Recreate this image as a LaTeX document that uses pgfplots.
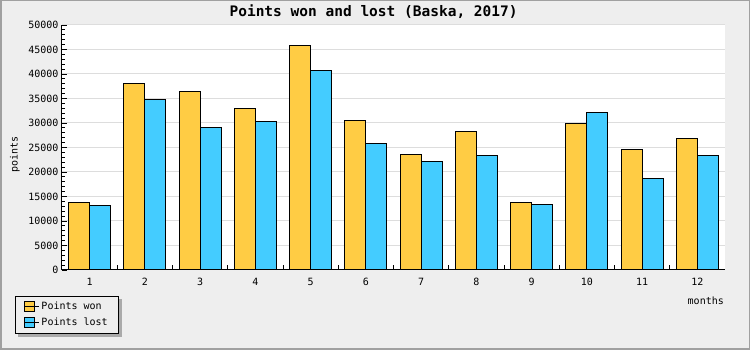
\documentclass[border=0pt]{standalone}
\usepackage{fontspec}
\setmainfont{DejaVu Sans Mono}
\usepackage{pgfplots}
\pgfplotsset{compat=1.18}
\definecolor{bg}{HTML}{EEEEEE}
\definecolor{won}{HTML}{FFCC44}
\definecolor{lost}{HTML}{44CCFF}
\definecolor{gridc}{HTML}{DDDDDD}
\definecolor{framec}{HTML}{A0A0A0}
\definecolor{shadowc}{HTML}{AAAAAA}
\pgfdeclarelayer{bgl}
\pgfdeclarelayer{shl}
\pgfsetlayers{bgl,shl,main}
\begin{document}
\begin{tikzpicture}[x=1pt,y=1pt]
\useasboundingbox (0,0) rectangle (750,350);
\begin{pgfonlayer}{bgl}
\fill[bg] (0,0) rectangle (750,350);
\end{pgfonlayer}
\begin{axis}[
  at={(62pt,80pt)}, anchor=south west,
  scale only axis, width=663pt, height=245pt,
  axis background/.style={fill=white},
  xmin=0.5, xmax=12.5, ymin=0, ymax=50000,
  ybar=0pt, bar width=21pt,
  axis x line*=bottom, axis y line*=left,
  axis line style={line width=1pt, -},
  tick align=inside,
  major tick length=5pt, minor tick length=3pt,
  tick style={black, line width=0.8pt},
  ytick distance=5000, minor y tick num=4,
  scaled y ticks=false,
  /pgf/number format/.cd, 1000 sep={}, assume math mode=true, /pgfplots/.cd,
  xtick={1.5,2.5,...,11.5}, xticklabels={},
  extra x ticks={1,2,...,12},
  extra x tick style={major tick length=0pt, tick style={draw=none}},
  ymajorgrids, major grid style={gridc, line width=1pt},
  ticklabel style={font=\fontsize{10}{12}\selectfont},
  xticklabel style={yshift=-4.5pt},
  title={Points won and lost (Baska, 2017)},
  title style={font=\bfseries\fontsize{14.5}{16}\selectfont, at={(axis description cs:0.470,1)}, anchor=base, yshift=2.2pt, inner sep=0pt},
  ylabel={points},
  ylabel style={font=\fontsize{10}{12}\selectfont, at={(axis description cs:-0.0709,0.473)}, anchor=center},
  xlabel={months},
  xlabel style={font=\fontsize{10}{12}\selectfont, at={(axis description cs:0.971,-0.1265)}, anchor=center},
  legend style={name=leg, at={(axis description cs:-0.0709,-0.105)}, anchor=north west,
    draw=black, line width=1pt, fill=bg,
    font=\fontsize{10}{12}\selectfont,
    inner xsep=8.5pt, inner ysep=4pt, row sep=3pt},
  legend cell align=left,
]
\addplot[fill=won, draw=black, line width=1pt,
  legend image code/.code={\draw[fill=won, draw=black, line width=0.8pt] (0pt,-5pt) rectangle (10pt,5pt); \path (0pt,0pt) -- (14.5pt,0pt);}] coordinates {
(1,13800) (2,38100) (3,36500) (4,33000) (5,45900) (6,30550)
(7,23600) (8,28300) (9,13800) (10,29900) (11,24600) (12,26900)};
\addplot[fill=lost, draw=black, line width=1pt,
  legend image code/.code={\draw[fill=lost, draw=black, line width=0.8pt] (0pt,-5pt) rectangle (10pt,5pt); \path (0pt,0pt) -- (14.5pt,0pt);}] coordinates {
(1,13100) (2,34700) (3,29100) (4,30300) (5,40800) (6,25850)
(7,22200) (8,23400) (9,13400) (10,32200) (11,18700) (12,23400)};
\legend{Points won, Points lost}
\end{axis}
\begin{pgfonlayer}{shl}
\fill[shadowc] ([xshift=3pt,yshift=-3pt]leg.south west) rectangle ([xshift=3pt,yshift=-3pt]leg.north east);
\end{pgfonlayer}
\draw[framec, line width=1.5pt] (0.75,0.75) rectangle (749.25,349.25);
\end{tikzpicture}
\end{document}
